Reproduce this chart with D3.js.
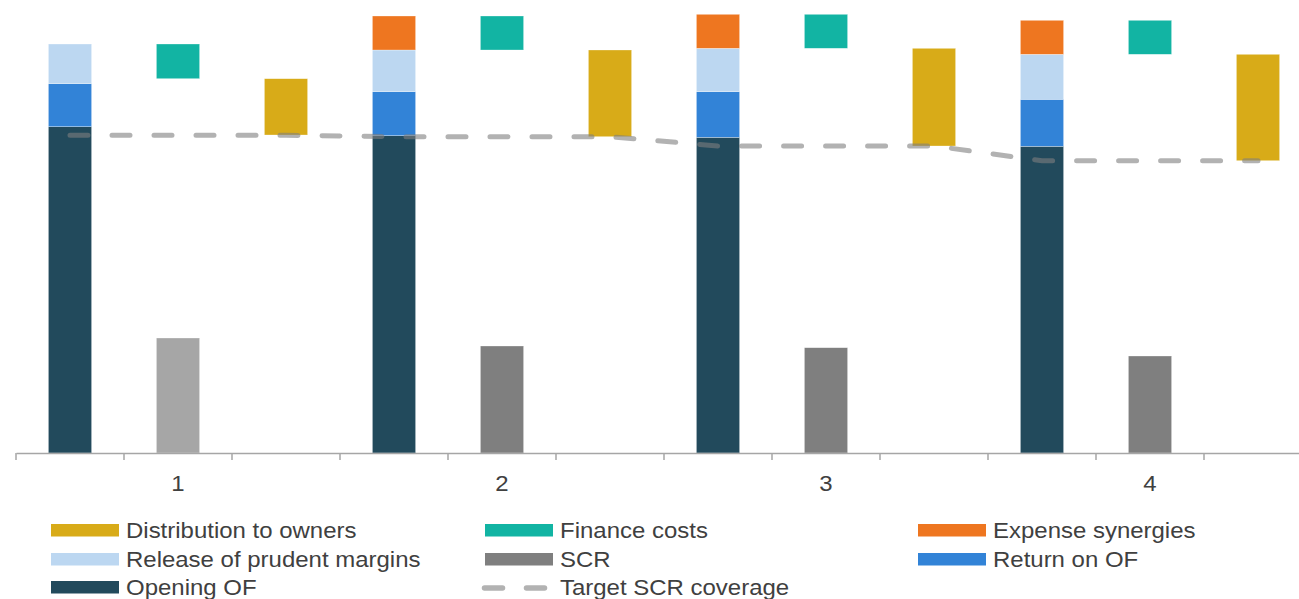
<!DOCTYPE html>
<html>
<head>
<meta charset="utf-8">
<script src="https://cdn.jsdelivr.net/npm/d3@7"></script>
<style>
  body { margin: 0; background: #fff; }
  text { font-family: "Liberation Sans", Arial, sans-serif; fill: #404040; }
</style>
</head>
<body>
<div id="chart"></div>
<script>
// groups along the x axis
var groups = ["1", "2", "3", "4"];
// each group has three slots: stacked build-up, finance costs / SCR, distribution
var slots = ["build", "finance", "dist"];

// values per group
var openingOF = [3.263, 3.173, 3.157, 3.067];
var returnOF = [0.430, 0.440, 0.456, 0.470];
var releaseMargins = [0.397, 0.417, 0.434, 0.450];
var expenseSynergies = [0, 0.340, 0.340, 0.340];
var financeCosts = [0.347, 0.340, 0.340, 0.340];
var distribution = [0.563, 0.867, 0.977, 1.064];
var scr = [1.150, 1.070, 1.053, 0.970];
var targetCoverage = [3.177, 3.163, 3.070, 2.923];

var legendItems = [
  ["Distribution to owners", "Finance costs", "Expense synergies"],
  ["Release of prudent margins", "SCR", "Return on OF"],
  ["Opening OF", "Target SCR coverage"]
];

var colors = {
  "Opening OF": "#224a5c",
  "Return on OF": "#3283d7",
  "Release of prudent margins": "#bcd7f1",
  "Expense synergies": "#ee7620",
  "Finance costs": "#12b4a3",
  "Distribution to owners": "#d8ab18",
  "SCR": "#7f7f7f",
  "Target SCR coverage": "#7f7f7f"
};

var width = 1299, height = 599;
var x0 = 16, slotW = 108;
var baseY = 453;
var textStretch = 1.09; // text in the picture is a bit wide for its height

var svg = d3.select("#chart").append("svg")
    .attr("width", width)
    .attr("height", height);

// one band per slot (12 in all)
var slotKeys = [];
groups.forEach(function(g) { slots.forEach(function(s) { slotKeys.push(g + "-" + s); }); });

var x = d3.scaleBand().domain(slotKeys).range([x0, x0 + slotKeys.length * slotW]).padding(0);
var xg = d3.scaleBand().domain(groups).range([x0, x0 + slotKeys.length * slotW]).padding(0);
var y = d3.scaleLinear().domain([0, 4.4]).range([baseY, 13]);

var barW = x.bandwidth() * 0.4;
function barX(key) { return x(key) + (x.bandwidth() - barW) / 2; }
function center(key) { return x(key) + x.bandwidth() / 2; }

// build up the rectangles
var rects = [];
groups.forEach(function(g, i) {
  var base = 0;
  var stack = [
    ["Opening OF", openingOF[i]],
    ["Return on OF", returnOF[i]],
    ["Release of prudent margins", releaseMargins[i]],
    ["Expense synergies", expenseSynergies[i]]
  ];
  stack.forEach(function(s) {
    if (s[1] > 0) rects.push({key: g + "-build", name: s[0], lo: base, hi: base + s[1]});
    base += s[1];
  });
  // finance costs float down from the top of the stack
  rects.push({key: g + "-finance", name: "Finance costs", lo: base - financeCosts[i], hi: base});
  base -= financeCosts[i];
  rects.push({key: g + "-finance", name: "SCR", lo: 0, hi: scr[i], fill: i === 0 ? "#a6a6a6" : null});
  rects.push({key: g + "-dist", name: "Distribution to owners", lo: base - distribution[i], hi: base});
});

svg.append("g").selectAll("rect")
    .data(rects)
  .enter().append("rect")
    .attr("x", function(d) { return barX(d.key); })
    .attr("y", function(d) { return y(d.hi); })
    .attr("width", barW)
    .attr("height", function(d) { return y(d.lo) - y(d.hi); })
    .attr("fill", function(d) { return d.fill || colors[d.name]; })
    .attr("stroke", "#fff")
    .attr("stroke-opacity", 0.5)
    .attr("stroke-width", 0.6);

// x axis: group labels at group centres, ticks at slot edges
var axis = svg.append("g")
    .attr("transform", "translate(0," + baseY + ")")
    .call(d3.axisBottom(xg).tickSize(0).tickPadding(22).tickSizeOuter(0));
axis.select(".domain").attr("stroke", "#a6a6a6").attr("stroke-width", 1.5);
axis.selectAll(".tick text")
    .style("font-family", "Liberation Sans, Arial, sans-serif")
    .style("font-size", "22px")
    .attr("fill", "#404040")
    .attr("transform", "scale(" + textStretch + ",1)");

svg.append("g").selectAll("line")
    .data(slotKeys)
  .enter().append("line")
    .attr("x1", function(d) { return x(d); })
    .attr("x2", function(d) { return x(d); })
    .attr("y1", baseY)
    .attr("y2", baseY + 7)
    .attr("stroke", "#a6a6a6")
    .attr("stroke-width", 1.5);

// target line, flat across each group
var linePts = [];
groups.forEach(function(g, i) {
  slots.forEach(function(s) { linePts.push({key: g + "-" + s, v: targetCoverage[i]}); });
});

var line = d3.line()
    .x(function(d) { return center(d.key); })
    .y(function(d) { return y(d.v); });

svg.append("path")
    .datum(linePts)
    .attr("d", line)
    .attr("fill", "none")
    .attr("stroke", colors["Target SCR coverage"])
    .attr("stroke-opacity", 0.6)
    .attr("stroke-width", 5)
    .attr("stroke-linecap", "round")
    .attr("stroke-dasharray", "18,24");

// legend
var colX = [51, 485, 918];
var rowY = [530, 559, 587];
var legend = svg.append("g");
legendItems.forEach(function(row, r) {
  row.forEach(function(name, c) {
    var g = legend.append("g").attr("transform", "translate(" + colX[c] + "," + rowY[r] + ")");
    if (name === "Target SCR coverage") {
      g.append("line")
          .attr("x1", -0.5).attr("x2", 62)
          .attr("y1", 1).attr("y2", 1)
          .attr("stroke", colors[name])
          .attr("stroke-opacity", 0.6)
          .attr("stroke-width", 5.5)
          .attr("stroke-linecap", "round")
          .attr("stroke-dasharray", "18,24");
    } else {
      g.append("rect")
          .attr("x", 0).attr("y", -6)
          .attr("width", 68).attr("height", 12.5)
          .attr("fill", colors[name]);
    }
    g.append("text")
        .attr("transform", "translate(75,8) scale(" + textStretch + ",1)")
        .style("font-size", "22px")
        .text(name);
  });
});
</script>
</body>
</html>
